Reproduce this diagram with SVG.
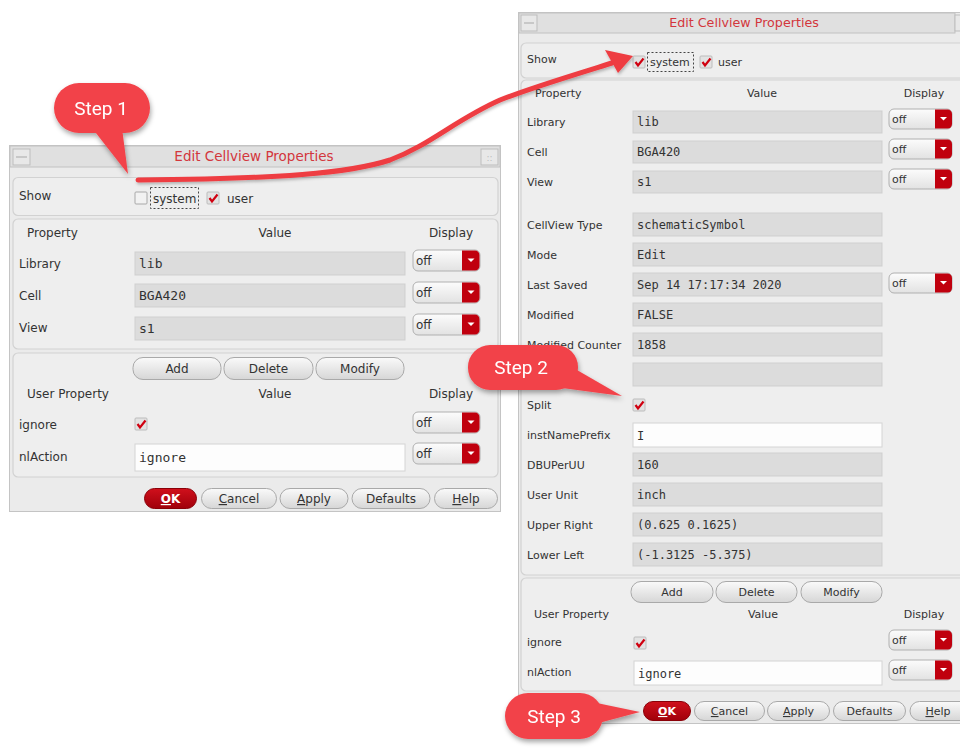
<svg xmlns="http://www.w3.org/2000/svg" xmlns:xlink="http://www.w3.org/1999/xlink" width="960" height="751" viewBox="0 0 960 751">
<style>
.dlg{fill:#ebebeb;stroke:#c4c4c4;stroke-width:1}
.tbar{fill:#e0e0e0;stroke:#c2c2c2;stroke-width:1}
.tbtn{fill:#e8e8e8;stroke:#bdbdbd;stroke-width:1}
.ttl{font-family:"DejaVu Sans",sans-serif;fill:#d3363c;text-anchor:middle}
.pnl{fill:#eeeeee;stroke:#d2d2d2;stroke-width:1.2}
.fld{fill:#dcdcdc;stroke:#cfcfcf;stroke-width:1}
.wfld{fill:#fdfdfd;stroke:#d4d4d4;stroke-width:1}
.lbl{font-family:"DejaVu Sans",sans-serif;font-size:12px;fill:#333}
.lr{font-size:11px}
.mid{text-anchor:middle}
.mono{font-family:"DejaVu Sans Mono","Liberation Mono",monospace;font-size:13px;fill:#333}
.mr{font-size:12px}
.btn{fill:url(#bg);stroke:#a9a9a9;stroke-width:1}
.ok{fill:url(#rg);stroke:#8a0008;stroke-width:1}
.btxt{font-family:"DejaVu Sans",sans-serif;font-size:12px;fill:#333;text-anchor:middle}
.otxt{font-family:"DejaVu Sans",sans-serif;font-size:12px;fill:#fff;font-weight:bold;text-anchor:middle}
.u{text-decoration:underline}
.foc{fill:none;stroke:#444;stroke-width:1;stroke-dasharray:2 2}
.call{fill:#f2434a}
.stxt{font-family:Roboto,"Liberation Sans",sans-serif;font-size:19px;fill:#fff;text-anchor:middle}
.arr{fill:none;stroke:#ee3c42;stroke-width:5;stroke-linecap:round}
</style>
<defs>
<linearGradient id="bg" x1="0" y1="0" x2="0" y2="1"><stop offset="0" stop-color="#fafafa"/><stop offset="1" stop-color="#d6d6d6"/></linearGradient>
<linearGradient id="rg" x1="0" y1="0" x2="0" y2="1"><stop offset="0" stop-color="#d0101c"/><stop offset="1" stop-color="#a0000a"/></linearGradient>
<linearGradient id="dg" x1="0" y1="0" x2="0" y2="1"><stop offset="0" stop-color="#fcfcfc"/><stop offset="1" stop-color="#e2e2e2"/></linearGradient>
<filter id="sh" x="-30%" y="-30%" width="160%" height="170%"><feDropShadow dx="1" dy="3" stdDeviation="2.5" flood-color="#000" flood-opacity="0.35"/></filter>
<filter id="ash" x="-10%" y="-30%" width="120%" height="160%"><feDropShadow dx="1" dy="2" stdDeviation="1.5" flood-color="#000" flood-opacity="0.25"/></filter>
<g id="ddL"><rect x="0" y="0" width="67" height="21" rx="5" fill="url(#dg)" stroke="#b0b0b0"/><path d="M49 0.5 h13 a4.5 4.5 0 0 1 4.5 4.5 v11 a4.5 4.5 0 0 1 -4.5 4.5 h-13 z" fill="#c0000e"/><path d="M54.5 8.5 h7 l-3.5 3.5 z" fill="#fff"/><text x="3" y="15" class="lbl">off</text></g>
<g id="ddR"><rect x="0" y="0" width="63" height="20" rx="5" fill="url(#dg)" stroke="#b0b0b0"/><path d="M46 0.5 h12.5 a4.5 4.5 0 0 1 4.5 4.5 v10 a4.5 4.5 0 0 1 -4.5 4.5 h-12.5 z" fill="#c0000e"/><path d="M51 8 h7 l-3.5 3.5 z" fill="#fff"/><text x="3" y="14" class="lbl lr">off</text></g>
<g id="cbOn"><rect x="0" y="0" width="12" height="12" rx="1" fill="#e2e2e2" stroke="#bcbcbc"/><path d="M2.5 6 L5 9.5 L10.5 2.5" fill="none" stroke="#d00010" stroke-width="2.2"/></g>
<g id="cbOff"><rect x="0" y="0" width="12" height="12" rx="1" fill="#f2f2f2" stroke="#a8a8a8"/></g>
</defs>
<rect x="0" y="0" width="960" height="751" fill="#ffffff"/>

<g id="dialog-left">
<rect class="dlg" x="9.5" y="145.5" width="491" height="366"/>
<rect class="tbar" x="10" y="146" width="490" height="21"/>
<rect class="tbtn" x="13" y="149" width="17" height="16"/>
<rect x="16" y="156" width="11" height="2" fill="#c8c8c8"/>
<rect class="tbtn" x="481" y="149" width="17" height="16"/>
<text x="489.5" y="161" class="lbl mid" style="font-size:9px;fill:#bbb">::</text>
<text x="254" y="161" class="ttl" style="font-size:13.5px">Edit Cellview Properties</text>
<rect class="pnl" x="13" y="177.5" width="485" height="38" rx="5"/>
<text x="19" y="200" class="lbl">Show</text>
<use href="#cbOff" x="135" y="192"/>
<rect class="foc" x="150.5" y="187.5" width="48" height="21"/>
<text x="153" y="203" class="lbl">system</text>
<use href="#cbOn" x="207" y="192"/>
<text x="227" y="203" class="lbl">user</text>
<rect class="pnl" x="13" y="219" width="485" height="130" rx="5"/>
<text x="27" y="237" class="lbl">Property</text>
<text x="275" y="237" class="lbl mid">Value</text>
<text x="451" y="237" class="lbl mid">Display</text>
<text x="19" y="268" class="lbl">Library</text>
<rect class="fld" x="135" y="252" width="270" height="23"/>
<text x="139" y="268" class="mono">lib</text>
<use href="#ddL" x="413" y="250"/>
<text x="19" y="300" class="lbl">Cell</text>
<rect class="fld" x="135" y="284" width="270" height="23"/>
<text x="139" y="300" class="mono">BGA420</text>
<use href="#ddL" x="413" y="282"/>
<text x="19" y="332" class="lbl">View</text>
<rect class="fld" x="135" y="317" width="270" height="23"/>
<text x="139" y="333" class="mono">s1</text>
<use href="#ddL" x="413" y="314"/>
<rect class="pnl" x="13" y="353" width="485" height="124" rx="5"/>
<rect class="btn" x="133" y="357.5" width="88" height="22" rx="10"/>
<text x="177" y="373" class="btxt">Add</text>
<rect class="btn" x="224" y="357.5" width="89" height="22" rx="10"/>
<text x="268.5" y="373" class="btxt">Delete</text>
<rect class="btn" x="316" y="357.5" width="88" height="22" rx="10"/>
<text x="360" y="373" class="btxt">Modify</text>
<text x="27" y="398" class="lbl">User Property</text>
<text x="275" y="398" class="lbl mid">Value</text>
<text x="451" y="398" class="lbl mid">Display</text>
<text x="19" y="429" class="lbl">ignore</text>
<use href="#cbOn" x="135" y="418"/>
<use href="#ddL" x="413" y="412"/>
<text x="19" y="461" class="lbl">nlAction</text>
<rect class="wfld" x="135" y="444" width="270" height="27"/>
<text x="139" y="462" class="mono">ignore</text>
<use href="#ddL" x="413" y="443"/>
<rect class="ok" x="144.5" y="488.5" width="52" height="20" rx="10"/>
<text x="170.5" y="503" class="otxt"><tspan class="u">O</tspan>K</text>
<rect class="btn" x="201.5" y="488.5" width="75" height="20" rx="10"/>
<text x="239" y="503" class="btxt"><tspan class="u">C</tspan>ancel</text>
<rect class="btn" x="280" y="488.5" width="68" height="20" rx="10"/>
<text x="314" y="503" class="btxt"><tspan class="u">A</tspan>pply</text>
<rect class="btn" x="352" y="488.5" width="78" height="20" rx="10"/>
<text x="391" y="503" class="btxt">Defaults</text>
<rect class="btn" x="434.5" y="488.5" width="63" height="20" rx="10"/>
<text x="466" y="503" class="btxt"><tspan class="u">H</tspan>elp</text>
</g>

<g id="dialog-right">
<rect class="dlg" x="518.5" y="12.5" width="445" height="711"/>
<rect class="tbar" x="519" y="13" width="436" height="20"/>
<rect class="tbtn" x="521" y="15" width="16" height="16"/>
<rect x="524" y="22" width="10" height="2" fill="#c8c8c8"/>
<rect class="tbtn" x="955" y="15" width="16" height="16"/>
<text x="744" y="27" class="ttl" style="font-size:12.7px">Edit Cellview Properties</text>
<rect class="pnl" x="521" y="43" width="445" height="35" rx="5"/>
<text x="527" y="63" class="lbl lr">Show</text>
<use href="#cbOn" x="633" y="56"/>
<rect class="foc" x="647.5" y="52.5" width="46" height="19"/>
<text x="650" y="66" class="lbl lr">system</text>
<use href="#cbOn" x="700" y="56"/>
<text x="718" y="66" class="lbl lr">user</text>
<rect class="pnl" x="521" y="80" width="445" height="495" rx="5"/>
<text x="535" y="97" class="lbl lr">Property</text>
<text x="762" y="97" class="lbl lr mid">Value</text>
<text x="924" y="97" class="lbl lr mid">Display</text>
<text x="527" y="126" class="lbl lr">Library</text>
<rect class="fld" x="633" y="111" width="249" height="22"/>
<text x="637" y="126" class="mono mr">lib</text>
<use href="#ddR" x="889" y="109"/>
<text x="527" y="156" class="lbl lr">Cell</text>
<rect class="fld" x="633" y="141" width="249" height="22"/>
<text x="637" y="156" class="mono mr">BGA420</text>
<use href="#ddR" x="889" y="139"/>
<text x="527" y="186" class="lbl lr">View</text>
<rect class="fld" x="633" y="171" width="249" height="22"/>
<text x="637" y="186" class="mono mr">s1</text>
<use href="#ddR" x="889" y="169"/>
<text x="527" y="229" class="lbl lr">CellView Type</text>
<rect class="fld" x="633" y="213" width="249" height="23"/>
<text x="637" y="229" class="mono mr">schematicSymbol</text>
<text x="527" y="259" class="lbl lr">Mode</text>
<rect class="fld" x="633" y="243" width="249" height="23"/>
<text x="637" y="259" class="mono mr">Edit</text>
<text x="527" y="289" class="lbl lr">Last Saved</text>
<rect class="fld" x="633" y="273" width="249" height="23"/>
<text x="637" y="289" class="mono mr">Sep 14 17:17:34 2020</text>
<use href="#ddR" x="889" y="273"/>
<text x="527" y="319" class="lbl lr">Modified</text>
<rect class="fld" x="633" y="303" width="249" height="23"/>
<text x="637" y="319" class="mono mr">FALSE</text>
<text x="527" y="349" class="lbl lr">Modified Counter</text>
<rect class="fld" x="633" y="333" width="249" height="23"/>
<text x="637" y="349" class="mono mr">1858</text>
<rect class="fld" x="633" y="363" width="249" height="23"/>
<text x="527" y="409" class="lbl lr">Split</text>
<use href="#cbOn" x="633" y="399"/>
<text x="527" y="439" class="lbl lr">instNamePrefix</text>
<rect class="wfld" x="633" y="423" width="249" height="24"/>
<text x="637" y="440" class="mono mr">I</text>
<text x="527" y="469" class="lbl lr">DBUPerUU</text>
<rect class="fld" x="633" y="453" width="249" height="23"/>
<text x="637" y="469" class="mono mr">160</text>
<text x="527" y="499" class="lbl lr">User Unit</text>
<rect class="fld" x="633" y="483" width="249" height="23"/>
<text x="637" y="499" class="mono mr">inch</text>
<text x="527" y="529" class="lbl lr">Upper Right</text>
<rect class="fld" x="633" y="513" width="249" height="23"/>
<text x="637" y="529" class="mono mr">(0.625 0.1625)</text>
<text x="527" y="559" class="lbl lr">Lower Left</text>
<rect class="fld" x="633" y="543" width="249" height="23"/>
<text x="637" y="559" class="mono mr">(-1.3125 -5.375)</text>
<rect class="pnl" x="521" y="578" width="445" height="113" rx="5"/>
<rect class="btn" x="631" y="581.5" width="82" height="21" rx="10"/>
<text x="672" y="596" class="btxt" style="font-size:11px">Add</text>
<rect class="btn" x="716" y="581.5" width="81" height="21" rx="10"/>
<text x="756.5" y="596" class="btxt" style="font-size:11px">Delete</text>
<rect class="btn" x="801" y="581.5" width="81" height="21" rx="10"/>
<text x="841.5" y="596" class="btxt" style="font-size:11px">Modify</text>
<text x="534" y="618" class="lbl lr">User Property</text>
<text x="763" y="618" class="lbl lr mid">Value</text>
<text x="924" y="618" class="lbl lr mid">Display</text>
<text x="527" y="646" class="lbl lr">ignore</text>
<use href="#cbOn" x="634" y="637"/>
<use href="#ddR" x="889" y="630"/>
<text x="527" y="676" class="lbl lr">nlAction</text>
<rect class="wfld" x="634" y="661" width="248" height="24"/>
<text x="638" y="678" class="mono mr">ignore</text>
<use href="#ddR" x="889" y="660"/>
<rect class="ok" x="643.5" y="701.5" width="47" height="19" rx="9.5"/>
<text x="667" y="715" class="otxt" style="font-size:11px"><tspan class="u">O</tspan>K</text>
<rect class="btn" x="694.5" y="701.5" width="70" height="19" rx="9.5"/>
<text x="729.5" y="715" class="btxt" style="font-size:11px"><tspan class="u">C</tspan>ancel</text>
<rect class="btn" x="767.5" y="701.5" width="62" height="19" rx="9.5"/>
<text x="798.5" y="715" class="btxt" style="font-size:11px"><tspan class="u">A</tspan>pply</text>
<rect class="btn" x="833.5" y="701.5" width="72" height="19" rx="9.5"/>
<text x="869.5" y="715" class="btxt" style="font-size:11px">Defaults</text>
<rect class="btn" x="910" y="701.5" width="60" height="19" rx="9.5"/>
<text x="938" y="715" class="btxt" style="font-size:11px"><tspan class="u">H</tspan>elp</text>
</g>

<g id="connectors" filter="url(#ash)">
<path class="arr" d="M138,180 C280,179 350,173 390,160 C430,145 455,120 500,100 C530,88 570,76 612,63"/>
<polygon points="633,56 605,50 618,73" fill="#ee3c42"/>
</g>

<g id="step1" filter="url(#sh)">
<path class="call" d="M92,128 L128,174 L122,128 z"/>
<rect class="call" x="54" y="83" width="96" height="50" rx="25"/>
<text x="101" y="115" class="stxt">Step 1</text>
</g>
<g id="step2" filter="url(#sh)">
<path class="call" d="M570,366 L622,396 L562,388 z"/>
<rect class="call" x="468" y="345" width="110" height="45" rx="22"/>
<text x="521" y="374" class="stxt">Step 2</text>
</g>
<g id="step3" filter="url(#sh)">
<path class="call" d="M592,702 L640,712 L595,724 z"/>
<rect class="call" x="505" y="693" width="98" height="46" rx="23"/>
<text x="554" y="723" class="stxt">Step 3</text>
</g>
</svg>
